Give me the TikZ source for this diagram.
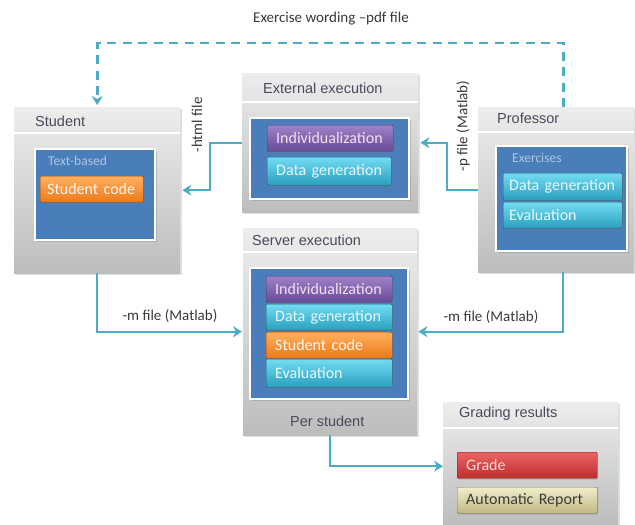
\documentclass[tikz,border=0pt]{standalone}
\usepackage{fontspec}
\setmainfont{Carlito}
\newfontfamily\titlefont{Liberation Sans}
\usetikzlibrary{arrows.meta,shadows,calc}

\definecolor{flowcol}{HTML}{4BACC6}
\definecolor{innerblue}{HTML}{4A7EBB}
\definecolor{titlegray}{HTML}{4A4A5C}
\definecolor{labelgray}{HTML}{3A3A3A}
\definecolor{purpletop}{HTML}{9E82C8}
\definecolor{purplebot}{HTML}{6A4B96}
\definecolor{cyantop}{HTML}{72DCF2}
\definecolor{cyanbot}{HTML}{2A9FBE}
\definecolor{orangetop}{HTML}{FFB060}
\definecolor{orangebot}{HTML}{EB7A1A}
\definecolor{redtop}{HTML}{EA6464}
\definecolor{redbot}{HTML}{BE2E2E}
\definecolor{tantop}{HTML}{F1EDCB}
\definecolor{tanbot}{HTML}{C2B884}

\tikzset{
  % gray container with a title strip
  panel/.style={anchor=north west, inner sep=0pt, top color=white!93!black,
    bottom color=white!74!black, draw=none,
    drop shadow={opacity=0.25, shadow xshift=1.5pt, shadow yshift=-1.5pt}},
  paneltitle/.style={anchor=west, inner sep=0pt, text=titlegray,
    font=\titlefont\fontsize{14.5}{17}\selectfont},
  % blue area inside a container
  bluebox/.style={anchor=north west, inner sep=0pt, fill=innerblue, draw=white,
    line width=2pt, drop shadow={opacity=0.35, shadow xshift=1.5pt, shadow yshift=-1.5pt}},
  subtitle/.style={anchor=west, inner sep=0pt, text=innerblue!45!white,
    font=\fontsize{13.5}{15}\selectfont},
  % coloured bars
  bar/.style={anchor=north west, minimum height=26pt, inner xsep=9pt, align=left,
    rounded corners=1pt, text=white!90!cyan, font=\fontsize{16}{18}\selectfont,
    drop shadow={opacity=0.35, shadow xshift=1pt, shadow yshift=-1.5pt}},
  purplebar/.style={bar, top color=purpletop, bottom color=purplebot,
    draw=purplebot!70!black, text=white!88!violet},
  cyanbar/.style={bar, top color=cyantop, bottom color=cyanbot,
    draw=cyanbot!60!black},
  orangebar/.style={bar, top color=orangetop, bottom color=orangebot,
    draw=orangebot!60!black, text=white!92!orange},
  redbar/.style={bar, top color=redtop, bottom color=redbot,
    draw=redbot!60!black, text=white!85!red},
  tanbar/.style={bar, top color=tantop, bottom color=tanbot,
    draw=tanbot!60!black, text=labelgray},
  % connectors
  flow/.style={draw=flowcol, line width=2.3pt, ->},
  pdfflow/.style={draw=flowcol, line width=2.6pt, dash pattern=on 9pt off 6.5pt, ->},
  flowlabel/.style={inner sep=0pt, text=labelgray, font=\fontsize{15}{17}\selectfont}
}

\begin{document}
\begin{tikzpicture}[x=1pt,y=-1pt,>={Stealth[length=9pt,width=11pt,inset=3pt]}]
\useasboundingbox[fill=white] (0,0) rectangle (635,525);

% Containers
\node[panel,minimum width=166,minimum height=166] (student) at (14,107) {};
\node[panel,minimum width=176,minimum height=139] (extexec) at (242,73) {};
\node[panel,minimum width=156,minimum height=165] (prof) at (478,107) {};
\node[panel,minimum width=174,minimum height=207] (server) at (243,228) {};
\node[panel,minimum width=175,minimum height=122] (grading) at (443,402) {};

% title strips
\foreach \p/\h in {student/26,extexec/29,prof/25,server/24,grading/26}
  \draw[white,line width=1.2pt] ($(\p.north west)+(0,\h)$) -- ($(\p.north east)+(0,\h)$);

\node[paneltitle] (studenttitle) at (35,121) {Student};
\node[paneltitle] (exttitle) at (263,88) {External execution};
\node[paneltitle] (proftitle) at (497,118) {Professor};
\node[paneltitle] (servertitle) at (252,240) {Server execution};
\node[paneltitle] (gradingtitle) at (459,414) {Grading results};
\node[paneltitle] (perstudent) at (290,421) {Per student};

% Blue areas
\node[bluebox,minimum width=120,minimum height=91] (studentin) at (34,148) {};
\node[bluebox,minimum width=159,minimum height=81] (extin) at (249,117) {};
\node[bluebox,minimum width=131,minimum height=105] (profin) at (495,145) {};
\node[bluebox,minimum width=158,minimum height=131] (serverin) at (249,267) {};

\node[subtitle] (textbased) at (48,161) {Text-based};
\node[subtitle] (exercises) at (512,158) {Exercises};

% Bars
\node[orangebar,inner xsep=7pt,text width=89pt] (stcode) at (40,176) {Student code};

\node[purplebar,text width=108pt] (extindiv) at (267,125) {Individualization};
\node[cyanbar,text width=106pt,minimum height=28pt] (extdata) at (267,157) {Data generation};

\node[cyanbar,inner xsep=6pt,text width=107pt,minimum height=27pt] (profdata) at (503,173) {Data generation};
\node[cyanbar,inner xsep=6pt,text width=107pt] (profeval) at (503,202) {Evaluation};

\node[purplebar,text width=108pt] (srvindiv) at (266,276) {Individualization};
\node[cyanbar,text width=108pt] (srvdata) at (266,304) {Data generation};
\node[orangebar,text width=108pt] (srvcode) at (266,332) {Student code};
\node[cyanbar,text width=108pt,minimum height=28pt] (srveval) at (266,359) {Evaluation};

\node[redbar,text width=122pt] (grade) at (457,452) {Grade};
\node[tanbar,text width=122pt] (report) at (457,487) {Automatic Report};

% Connectors
\coordinate (pdftop) at (330,43);
\draw[pdfflow] ([xshift=7.5pt]prof.north) |- (pdftop) -| ([yshift=2pt]student.north);
\node[flowlabel] (pdflabel) at (331,19) {Exercise wording --pdf file};

\draw[flow] (extexec.west) -- ++(-32,0) |- ([xshift=2pt]student.east);
\node[flowlabel,rotate=90] (htmllabel) at (197,125) {-html file};

\draw[flow] (prof.west) -- ++(-31,0) |- ([xshift=2pt]extexec.east);
\node[flowlabel,rotate=90] (plabel) at (463,126) {-p file (Matlab)};

\draw[flow] (student.south) |- ([xshift=-1pt]server.west);
\node[flowlabel] (mlabelleft) at (170,316) {-m file (Matlab)};

\draw[flow] ([xshift=7pt]prof.south) |- ([xshift=1pt]server.east);
\node[flowlabel] (mlabelright) at (491,317) {-m file (Matlab)};

\draw[flow] (server.south) |- ([yshift=-3pt]grading.west);
\end{tikzpicture}
\end{document}
